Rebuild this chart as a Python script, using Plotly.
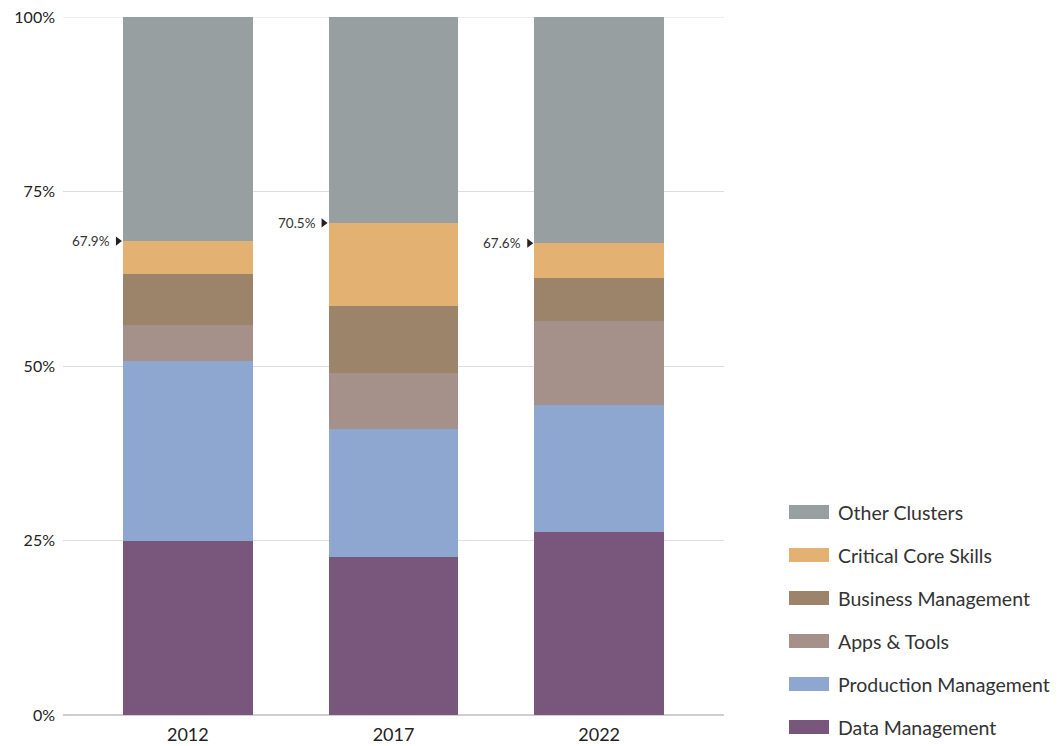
import plotly.graph_objects as go

years = ["2012", "2017", "2022"]
series_names = ["Data Management", "Production Management", "Apps & Tools",
                "Business Management", "Critical Core Skills", "Other Clusters"]
data_mgmt = [24.9, 22.6, 26.2]
production_mgmt = [25.8, 18.4, 18.2]
apps_tools = [5.2, 8.0, 12.0]
business_mgmt = [7.3, 9.6, 6.2]
critical_core = [4.7, 11.9, 5.0]
other_clusters = [32.1, 29.5, 32.4]
colors = ["#79577c", "#8ea7d0", "#a59189", "#9b8469", "#e3b171", "#979fa0"]

series_values = [data_mgmt, production_mgmt, apps_tools, business_mgmt, critical_core, other_clusters]

FONT = "Lato, 'Open Sans', sans-serif"
OFF = 8  # page body offset
W, H = 1058 - OFF, 746 - OFF
L, R, T, B = 63 - OFF, 334, 17 - OFF, 31
pw, ph = W - L - R, H - T - B
bar_w = 0.63

fig = go.Figure()
xs = list(range(len(years)))
for name, vals, col in zip(series_names, series_values, colors):
    fig.add_trace(go.Bar(x=xs, y=vals, name=name, marker=dict(color=col, line=dict(width=0)),
                         width=bar_w, showlegend=False, hoverinfo="y+name"))

# cumulative share labels (sum of first five clusters)
cum = [sum(s[i] for s in series_values[:5]) for i in range(len(years))]
fig.add_trace(go.Scatter(x=[i - bar_w / 2 - 0.025 for i in xs], y=cum, mode="markers",
                         marker=dict(symbol="triangle-right", size=8, color="#222"),
                         showlegend=False, hoverinfo="skip"))
for i, c in enumerate(cum):
    fig.add_annotation(x=i - bar_w / 2, y=c, text=f"{c:.1f}%", showarrow=False,
                       xanchor="right", yanchor="middle", xshift=-11,
                       font=dict(family=FONT, size=13.5, color="#333"))

# top gridline (100%)
fig.add_shape(type="line", xref="paper", yref="y", x0=0, x1=1, y0=100, y1=100,
              line=dict(color="#dedede", width=1), layer="below")

# custom legend (top = Other Clusters), positions given in page px
leg_y0 = 512
for k, (name, col) in enumerate(zip(series_names[::-1], colors[::-1])):
    cy = leg_y0 + 43 * k - OFF
    y_top = (H - B - (cy - 7)) / ph
    y_bot = (H - B - (cy + 7)) / ph
    fig.add_shape(type="rect", xref="paper", yref="paper",
                  x0=(789 - 63) / pw, x1=(829 - 63) / pw, y0=y_bot, y1=y_top,
                  fillcolor=col, line=dict(width=0))
    fig.add_annotation(xref="paper", yref="paper", x=(836 - 63) / pw, y=(H - B - cy) / ph,
                       text=name, showarrow=False, xanchor="left", yanchor="middle",
                       font=dict(family=FONT, size=19.5, color="#333"))

fig.update_layout(
    width=W, height=H, barmode="stack", bargap=0,
    margin=dict(l=L, r=R, t=T, b=B, autoexpand=False),
    plot_bgcolor="white", paper_bgcolor="white",
    font=dict(family=FONT, color="#333"),
    xaxis=dict(tickvals=xs, ticktext=years, range=[-0.607, 2.607], showgrid=False,
               zeroline=False, showline=False, ticks="", ticklabelstandoff=7,
               ticklabeloverflow="allow",
               tickfont=dict(family=FONT, size=18, color="#222")),
    yaxis=dict(range=[0, 100], tickvals=[0, 25, 50, 75, 100],
               ticktext=["0%", "25%", "50%", "75%", "100%"],
               showgrid=True, gridcolor="#dedede", gridwidth=1, zeroline=True,
               zerolinecolor="#cfcfcf", zerolinewidth=1.5, ticks="",
               ticklabelstandoff=7, ticklabeloverflow="allow",
               tickfont=dict(family=FONT, size=16, color="#222")),
    hovermode="closest",
)

fig.write_html("out.html")
